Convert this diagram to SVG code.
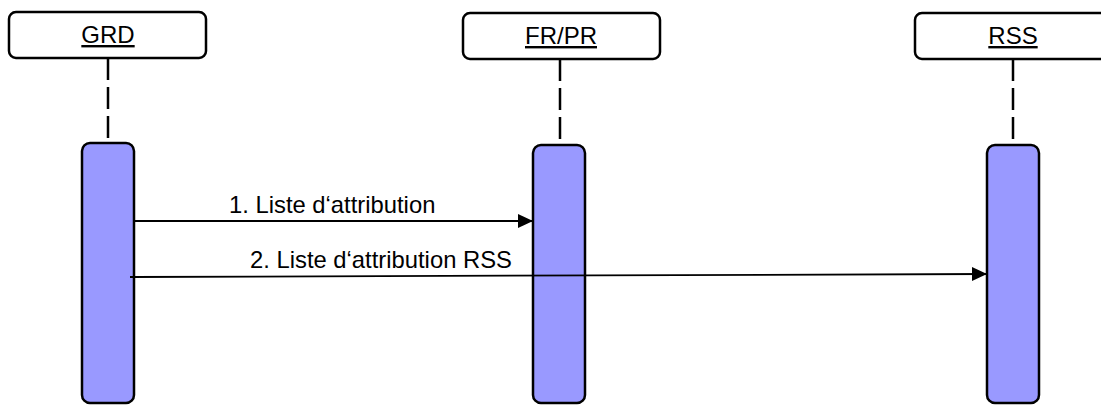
<svg xmlns="http://www.w3.org/2000/svg" width="1101" height="405" viewBox="0 0 1101 405">
<defs>
<style>
.head{fill:#fff;stroke:#000;stroke-width:2.5}
.lbl{font-family:"Liberation Sans",Arial,sans-serif;font-size:24px;fill:#000;text-anchor:middle;text-decoration:underline}
.life{stroke:#000;stroke-width:2.5;stroke-dasharray:22 7;fill:none}
.act{fill:#9999ff;stroke:#000;stroke-width:2.5}
.msg{stroke:#000;stroke-width:1.8;fill:none;marker-end:url(#arr)}
.mtxt{font-family:"Liberation Sans",Arial,sans-serif;font-size:23.8px;fill:#000}
</style>
<marker id="arr" markerUnits="userSpaceOnUse" markerWidth="16" markerHeight="16" refX="15" refY="7" orient="auto">
<path d="M0,0 L15,7 L0,14 Z" fill="#000"/>
</marker>
</defs>
<g id="GRD">
<rect class="head" x="9" y="12" width="197" height="46" rx="7"/>
<text class="lbl" x="108" y="43">GRD</text>
<line class="life" x1="108" y1="58" x2="108" y2="143"/>
<rect class="act" x="82" y="143" width="52" height="260" rx="8"/>
</g>
<g id="FRPR">
<rect class="head" x="463" y="13" width="197" height="46" rx="7"/>
<text class="lbl" x="561" y="44">FR/PR</text>
<line class="life" x1="560" y1="59" x2="560" y2="145"/>
<rect class="act" x="533" y="145" width="52" height="258" rx="8"/>
</g>
<g id="RSS">
<rect class="head" x="915" y="13" width="197" height="46" rx="7"/>
<text class="lbl" x="1013" y="44">RSS</text>
<line class="life" x1="1013" y1="59" x2="1013" y2="145"/>
<rect class="act" x="987" y="145" width="52" height="258" rx="8"/>
</g>
<g id="connectors">
<line class="msg" x1="134" y1="221" x2="533" y2="221"/>
<text class="mtxt" x="229" y="213">1. Liste d‘attribution</text>
<line class="msg" x1="130" y1="277" x2="987" y2="274"/>
<text class="mtxt" x="250" y="268">2. Liste d‘attribution RSS</text>
</g>
</svg>
